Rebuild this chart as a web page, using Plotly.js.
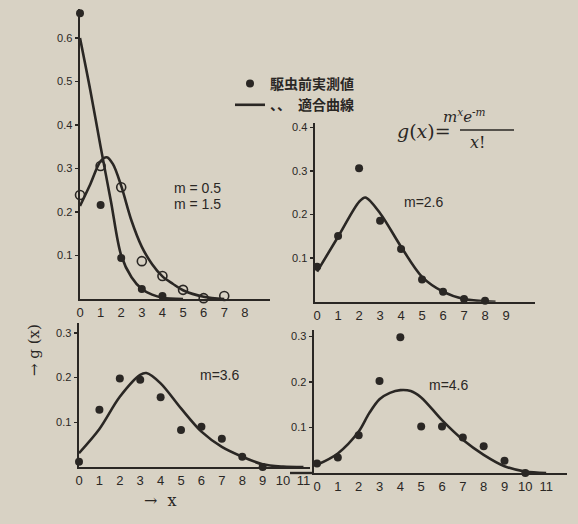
<!DOCTYPE html>
<html>
<head>
<meta charset="utf-8">
<script src="https://cdn.plot.ly/plotly-3.0.1.min.js"></script>
<style>
html,body{margin:0;padding:0;background:#d8d2c4;}
#chart{width:578px;height:524px;}
</style>
</head>
<body>
<div id="chart"></div>
<script>
// ---- data ----
const obsX05 = [0,1,2,3,4];
const obsY05 = [0.657,0.216,0.094,0.023,0.007];
const fitX05 = [0,0.5,1,1.5,2,2.5,3,3.5,4,5];
const fitY05 = [0.60,0.48,0.35,0.225,0.10,0.05,0.023,0.01,0.003,0];

const obsX15 = [0,1,2,3,4,5,6,7];
const obsY15 = [0.239,0.306,0.257,0.087,0.053,0.021,0.002,0.007];
const fitX15 = [0,0.5,1,1.3,1.6,2,2.5,3,3.5,4,4.5,5,6,7];
const fitY15 = [0.214,0.264,0.317,0.326,0.31,0.26,0.18,0.12,0.08,0.052,0.035,0.02,0.005,0];

const obsX26 = [0,1,2,3,4,5,6,7,8];
const obsY26 = [0.080,0.151,0.306,0.186,0.121,0.051,0.023,0.006,0.002];
const fitX26 = [0,1,2,2.3,3,4,5,6,7,8,8.5];
const fitY26 = [0.069,0.149,0.229,0.239,0.203,0.126,0.057,0.023,0.006,0.001,0];

const obsX36 = [0,1,2,3,4,5,6,7,8,9];
const obsY36 = [0.012,0.128,0.198,0.195,0.156,0.083,0.09,0.063,0.023,0.0];
const fitX36 = [0,1,2,3,3.3,4,5,6,7,8,9,10,11];
const fitY36 = [0.031,0.085,0.157,0.206,0.21,0.187,0.131,0.079,0.045,0.023,0.006,0.001,0];

const obsX46 = [0,1,2,3,4,5,6,7,8,9,10];
const obsY46 = [0.021,0.034,0.083,0.202,0.298,0.102,0.102,0.078,0.059,0.027,0.0];
const fitX46 = [0,1,2,2.5,3,3.5,4,4.5,5,6,7,8,9,10,11];
const fitY46 = [0.018,0.043,0.091,0.131,0.162,0.176,0.182,0.18,0.166,0.116,0.073,0.04,0.015,0.003,0];

const xTicks1 = [0,1,2,3,4,5,6,7,8];
const xTicks2 = [0,1,2,3,4,5,6,7,8,9];
const xTicks3 = [0,1,2,3,4,5,6,7,8,9,10,11];
const xTicks4 = [0,1,2,3,4,5,6,7,8,9,10,11];
const yTicks1 = [0.1,0.2,0.3,0.4,0.5,0.6];
const yTickText1 = ['0.1','0.2','0.3','0.4','0.5','0.6'];
const yTicks2 = [0.1,0.2,0.3,0.4];
const yTickText2 = ['0.1','0.2','0.3','0.4'];
const yTicks3 = [0.1,0.2,0.3];
const yTickText3 = ['0.1','0.2','0.3'];
const yTicks4 = [0.1,0.2,0.3];
const yTickText4 = ['0.1','0.2','0.3'];

const legendObs = '駆虫前実測値';
const legendFit = '、、　適合曲線';
const labels = ['m = 0.5','m = 1.5','m=2.6','m=3.6','m=4.6'];

// ---- styling ----
const W = 578, H = 524;
const ink = '#2a2724';
const bg = '#d8d2c4';
const fx = (a,b) => [a/W, b/W];
const fy = (top,bottom) => [1-bottom/H, 1-top/H];

function dots(x,y,xa,ya,name,show,open){
  return {x:x,y:y,xaxis:xa,yaxis:ya,type:'scatter',mode:'markers',name:name,showlegend:show,
    cliponaxis:false,
    marker: open ? {symbol:'circle-open',size:9,color:ink,line:{width:1.6,color:ink}}
                 : {symbol:'circle',size:8,color:ink}};
}
function fit(x,y,xa,ya,name,show){
  return {x:x,y:y,xaxis:xa,yaxis:ya,type:'scatter',mode:'lines',name:name,showlegend:show,
    line:{shape:'spline',smoothing:0.9,width:2.6,color:ink}};
}

const data = [
  dots(obsX05,obsY05,'x','y',legendObs,true,false),
  fit(fitX05,fitY05,'x','y',legendFit,true),
  dots(obsX15,obsY15,'x','y','m = 1.5',false,true),
  fit(fitX15,fitY15,'x','y','m = 1.5',false),
  dots(obsX26,obsY26,'x2','y2','m=2.6',false,false),
  fit(fitX26,fitY26,'x2','y2','m=2.6',false),
  dots(obsX36,obsY36,'x3','y3','m=3.6',false,false),
  fit(fitX36,fitY36,'x3','y3','m=3.6',false),
  dots(obsX46,obsY46,'x4','y4','m=4.6',false,false),
  fit(fitX46,fitY46,'x4','y4','m=4.6',false)
];

const tickFontX = {family:'Liberation Sans, DejaVu Sans, sans-serif',size:13,color:ink};
const tickFontY = {family:'Liberation Sans, DejaVu Sans, sans-serif',size:11,color:ink};

function xax(domain,range,ticks,anchor){
  return {domain:domain,range:range,anchor:anchor,tickvals:ticks,ticktext:ticks.map(String),
    showline:true,linewidth:2.4,linecolor:ink,showgrid:false,zeroline:false,ticks:'',
    tickfont:tickFontX,fixedrange:true};
}
function yax(domain,range,ticks,text,anchor){
  return {domain:domain,range:range,anchor:anchor,tickvals:ticks,ticktext:text,
    showline:true,linewidth:2.4,linecolor:ink,showgrid:false,zeroline:false,
    ticks:'outside',ticklen:3,tickwidth:1.5,tickcolor:ink,
    tickfont:tickFontY,fixedrange:true};
}

const layout = {
  width:W,height:H,
  margin:{l:0,r:0,t:0,b:0},
  paper_bgcolor:bg,plot_bgcolor:'rgba(0,0,0,0)',
  showlegend:true,
  legend:{x:230/W,y:1-68/H,xanchor:'left',yanchor:'top',bgcolor:'rgba(0,0,0,0)',
    font:{family:'Noto Sans CJK JP, Noto Sans CJK SC, sans-serif',size:14,color:ink,weight:700},
    itemwidth:30,tracegroupgap:0},
  xaxis: xax(fx(80,270),[0,9.22],xTicks1,'y'),
  yaxis: yax(fy(8.5,299),[0,0.668],yTicks1,yTickText1,'x'),
  xaxis2: xax(fx(315,535),[-0.1,10.38],xTicks2,'y2'),
  yaxis2: yax(fy(123,301.7),[0,0.41],yTicks2,yTickText2,'x2'),
  xaxis3: xax(fx(79,310),[0,11.32],xTicks3,'y3'),
  yaxis3: yax(fy(323,467),[0,0.322],yTicks3,yTickText3,'x3'),
  xaxis4: xax(fx(314,567),[-0.144,12.0],xTicks4,'y4'),
  yaxis4: yax(fy(330,473),[0,0.314],yTicks4,yTickText4,'x4'),
  shapes:[
    {type:'line',xref:'paper',yref:'paper',x0:290/W,x1:314/W,y0:1-473/H,y1:1-473/H,
     line:{color:ink,width:2.4}},
    {type:'line',xref:'paper',yref:'paper',x0:460/W,x1:514/W,y0:1-130/H,y1:1-130/H,
     line:{color:ink,width:1.5}}
  ],
  annotations:[
    {text:labels[0],x:197/W,y:1-188/H,xref:'paper',yref:'paper',showarrow:false,
     font:{family:'Liberation Sans, sans-serif',size:14,color:ink}},
    {text:labels[1],x:197/W,y:1-204/H,xref:'paper',yref:'paper',showarrow:false,
     font:{family:'Liberation Sans, sans-serif',size:14,color:ink}},
    {text:labels[2],x:446/W,y:1-202/H,xref:'paper',yref:'paper',showarrow:false,
     font:{family:'Liberation Sans, sans-serif',size:14,color:ink}},
    {text:labels[3],x:220/W,y:1-385/H,xref:'paper',yref:'paper',showarrow:false,
     font:{family:'Liberation Sans, sans-serif',size:14,color:ink}},
    {text:labels[4],x:471/W,y:1-395/H,xref:'paper',yref:'paper',showarrow:false,
     font:{family:'Liberation Sans, sans-serif',size:14,color:ink}},
    {text:'<i>g</i>(<i>x</i>)=',x:453/W,y:1-131/H,xref:'paper',yref:'paper',xanchor:'right',yanchor:'middle',showarrow:false,
     font:{family:'DejaVu Serif, serif',size:19,color:ink}},
    {text:'<i>m<sup>x</sup>e<sup>-m</sup></i>',x:488/W,y:1-128/H,xref:'paper',yref:'paper',yanchor:'bottom',showarrow:false,
     font:{family:'DejaVu Serif, serif',size:15,color:ink}},
    {text:'<i>x</i>!',x:487/W,y:1-131/H,xref:'paper',yref:'paper',yanchor:'top',showarrow:false,
     font:{family:'DejaVu Serif, serif',size:16,color:ink}},
    {text:'→ g (x)',x:23/W,y:1-378/H,xref:'paper',yref:'paper',showarrow:false,textangle:-90,
     font:{family:'DejaVu Serif, serif',size:15,color:ink}},
    {text:'→  x',x:142/W,y:1-512/H,xref:'paper',yref:'paper',showarrow:false,
     font:{family:'DejaVu Serif, serif',size:16,color:ink}}
  ]
};

Plotly.newPlot('chart',data,layout,{displayModeBar:false,staticPlot:true});
</script>
</body>
</html>
